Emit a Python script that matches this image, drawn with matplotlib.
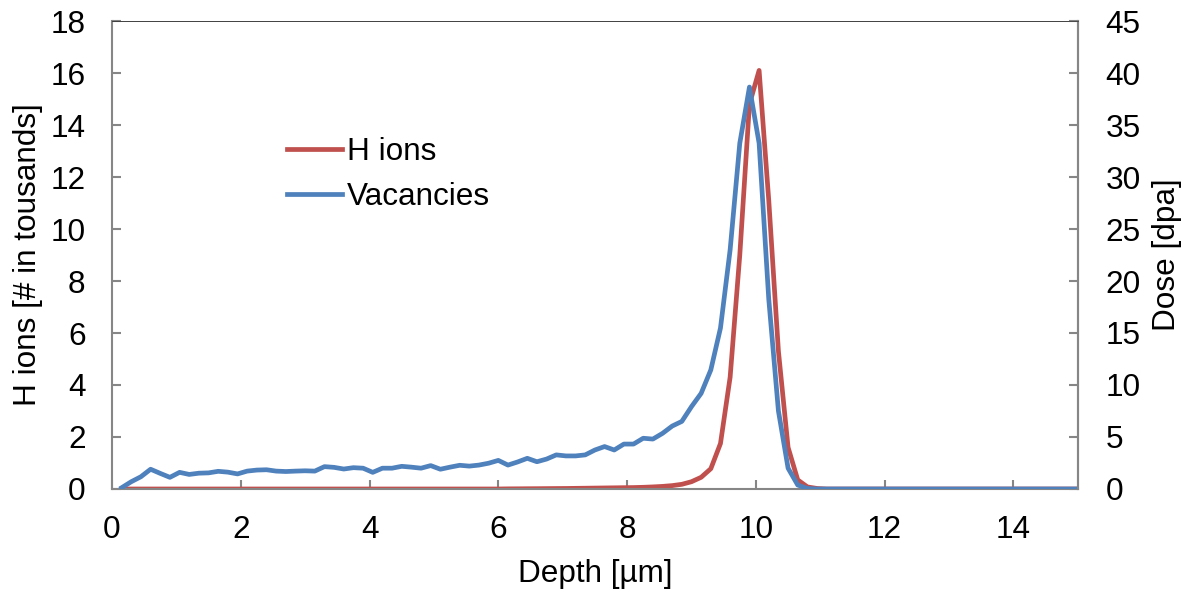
import matplotlib as mlp
mlp.use('Agg')
import matplotlib.pyplot as plt
import numpy as np

BORDER_COLOR = '#868686'
RED = '#C0504D'
BLUE = '#4F81BD'

# depth bins [um], 0.15 .. 15.0
depth = np.round(np.arange(1, 101) * 0.15, 2)

# H ions, thousands (left axis)
h_ions = [0.0] * 40 + [
    0.005, 0.007, 0.01, 0.012, 0.015, 0.018, 0.02, 0.025, 0.03, 0.035,
    0.04, 0.045, 0.05, 0.055, 0.065, 0.08, 0.1, 0.13, 0.18, 0.28,
    0.45, 0.78, 1.75, 4.3, 9.0, 14.8, 16.1, 11.1, 5.3, 1.6,
    0.35, 0.08, 0.02] + [0.0] * 27

# vacancies as dose, dpa (right axis)
vacancies = [
    0.12, 0.7, 1.18, 1.9, 1.5, 1.12, 1.6, 1.4, 1.52, 1.55,
    1.7, 1.62, 1.45, 1.72, 1.82, 1.85, 1.72, 1.68, 1.72, 1.75,
    1.72, 2.15, 2.08, 1.92, 2.05, 2.0, 1.6, 2.0, 2.0, 2.18,
    2.1, 2.0, 2.25, 1.9, 2.1, 2.28, 2.2, 2.3, 2.48, 2.75,
    2.3, 2.6, 2.95, 2.62, 2.88, 3.28, 3.18, 3.18, 3.28, 3.75,
    4.08, 3.75, 4.32, 4.32, 4.88, 4.8, 5.35, 6.05, 6.5, 7.92,
    9.2, 11.45, 15.48, 23.0, 33.25, 38.65, 33.25, 18.25, 7.5, 2.0,
    0.38, 0.05] + [0.0] * 28

plt.rcParams['font.family'] = ['Liberation Sans', 'DejaVu Sans']
FS = 22.7

fig = plt.figure(figsize=(11.91, 5.92), dpi=100)
ax = fig.add_axes([0.094, 0.174, 0.811, 0.7905])
ax2 = ax.twinx()

l1, = ax.plot(depth, h_ions, color=RED, lw=3.4, label='H ions')
l2, = ax2.plot(depth, vacancies, color=BLUE, lw=3.4, label='Vacancies')

ax.set_xlim(0, 15)
ax.set_ylim(0, 18)
ax2.set_ylim(0, 45)
ax.set_xticks(np.arange(0, 15, 2))
ax.set_yticks(np.arange(0, 19, 2))
ax2.set_yticks(np.arange(0, 46, 5))

ax.set_xlabel('Depth [µm]', fontsize=FS, labelpad=10)
ax.set_ylabel('H ions [# in tousands]', fontsize=FS, labelpad=5)
ax2.set_ylabel('Dose [dpa]', fontsize=FS, labelpad=8)

for a in (ax, ax2):
    for s in ('left', 'right', 'bottom'):
        a.spines[s].set_color(BORDER_COLOR)
        a.spines[s].set_linewidth(1.5)
    a.spines['top'].set_color('#404040')
    a.spines['top'].set_linewidth(0.6)
    a.tick_params(direction='in', length=6.5, width=1.5, color=BORDER_COLOR,
                  labelsize=FS)
ax.tick_params(axis='y', pad=19)
ax.tick_params(axis='x', pad=19)
ax2.tick_params(axis='y', pad=20)
ax2.spines['left'].set_visible(False)
ax2.spines['bottom'].set_visible(False)

fig.legend(handles=[l1, l2], loc='upper left',
           bbox_to_anchor=(287 / 1191, 1 - 137 / 592), frameon=False,
           fontsize=FS, handlelength=1.75, handletextpad=0.16,
           labelspacing=0.48, borderaxespad=0, borderpad=0)

fig.savefig('out.png', dpi=100)
